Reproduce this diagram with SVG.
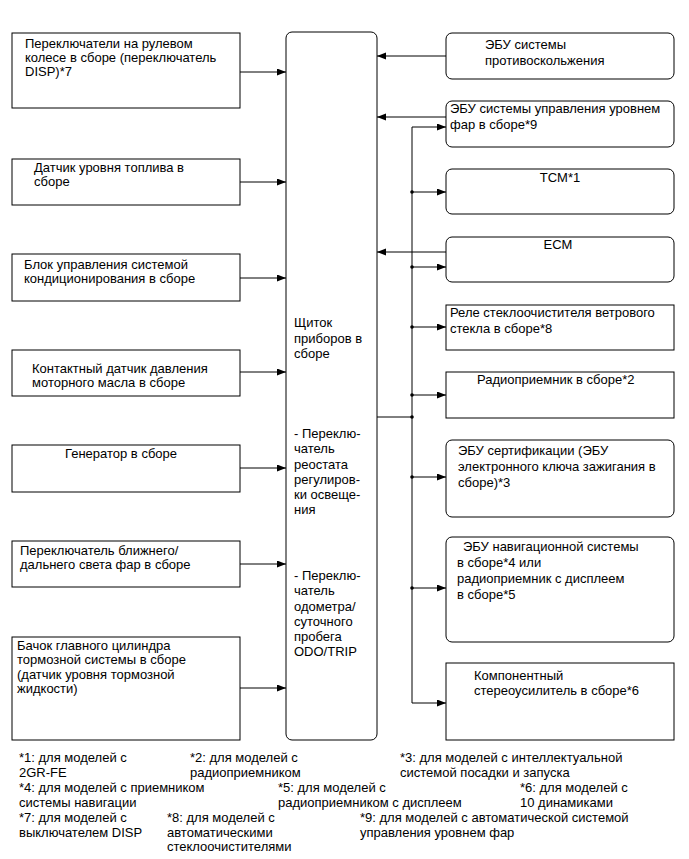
<svg xmlns="http://www.w3.org/2000/svg" width="689" height="859" viewBox="0 0 689 859">
<defs>
<marker id="ah" markerUnits="userSpaceOnUse" markerWidth="10" markerHeight="8" refX="9" refY="3.5" orient="auto">
<path d="M0,0 L9,3.5 L0,7 z" fill="#000"/>
</marker>
<style>
.b{fill:#fff;stroke:#000;stroke-width:1}
.t{font-family:"Liberation Sans",Arial,sans-serif;font-size:13px;fill:#000}
.c{stroke:#000;stroke-width:1;fill:none}
.a{marker-end:url(#ah)}
</style>
</defs>
<rect width="689" height="859" fill="#fff"/>
<g id="connectors">
<line class="c a" x1="240" y1="72" x2="286" y2="72"/>
<line class="c a" x1="240" y1="182" x2="286" y2="182"/>
<line class="c a" x1="240" y1="278" x2="286" y2="278"/>
<line class="c a" x1="240" y1="372" x2="286" y2="372"/>
<line class="c a" x1="240" y1="468" x2="286" y2="468"/>
<line class="c a" x1="240" y1="564" x2="286" y2="564"/>
<line class="c a" x1="240" y1="688" x2="286" y2="688"/>
<line class="c a" x1="446" y1="56" x2="377" y2="56"/>
<line class="c a" x1="446" y1="117" x2="377" y2="117"/>
<line class="c a" x1="446" y1="252" x2="377" y2="252"/>
<line class="c" x1="377" y1="417" x2="412" y2="417"/>
<path class="c a" d="M412,703 L412,127 L446,127"/>
<line class="c a" x1="412" y1="192" x2="446" y2="192"/>
<line class="c a" x1="412" y1="267" x2="446" y2="267"/>
<line class="c a" x1="412" y1="327" x2="446" y2="327"/>
<line class="c a" x1="412" y1="395" x2="446" y2="395"/>
<line class="c a" x1="412" y1="477" x2="446" y2="477"/>
<line class="c a" x1="412" y1="588" x2="446" y2="588"/>
<line class="c a" x1="412" y1="703" x2="446" y2="703"/>
<g fill="#000">
<circle cx="412" cy="192" r="1.8"/>
<circle cx="412" cy="267" r="1.8"/>
<circle cx="412" cy="327" r="1.8"/>
<circle cx="412" cy="395" r="1.8"/>
<circle cx="412" cy="417" r="1.8"/>
<circle cx="412" cy="477" r="1.8"/>
<circle cx="412" cy="588" r="1.8"/>
</g>
</g>
<g id="center">
<rect class="b" x="286" y="32" width="91" height="708" rx="6"/>
<text class="t"><tspan x="294" y="327">Щиток</tspan><tspan x="294" y="342.5">приборов в</tspan><tspan x="294" y="358">сборе</tspan>
<tspan x="294" y="438">- Переклю-</tspan><tspan x="294" y="453">чатель</tspan><tspan x="294" y="468.5">реостата</tspan><tspan x="294" y="484">регулиров-</tspan><tspan x="294" y="499">ки освеще-</tspan><tspan x="294" y="514">ния</tspan>
<tspan x="294" y="580">- Переклю-</tspan><tspan x="294" y="595">чатель</tspan><tspan x="294" y="610.5">одометра/</tspan><tspan x="294" y="626">суточного</tspan><tspan x="294" y="641">пробега</tspan><tspan x="294" y="656">ODO/TRIP</tspan></text>
</g>
<g id="l1"><rect class="b" x="12" y="33" width="228" height="75"/>
<text class="t"><tspan x="25" y="48">Переключатели на рулевом</tspan><tspan x="25" y="62">колесе в сборе (переключатель</tspan><tspan x="25" y="76">DISP)*7</tspan></text></g>
<g id="l2"><rect class="b" x="12" y="159" width="228" height="46"/>
<text class="t"><tspan x="34" y="172">Датчик уровня топлива в</tspan><tspan x="34" y="186">сборе</tspan></text></g>
<g id="l3"><rect class="b" x="12" y="254" width="228" height="47"/>
<text class="t"><tspan x="24" y="269">Блок управления системой</tspan><tspan x="24" y="283">кондиционирования в сборе</tspan></text></g>
<g id="l4"><rect class="b" x="12" y="350" width="228" height="46"/>
<text class="t"><tspan x="32" y="373">Контактный датчик давления</tspan><tspan x="32" y="387">моторного масла в сборе</tspan></text></g>
<g id="l5"><rect class="b" x="12" y="445" width="228" height="47"/>
<text class="t"><tspan x="65" y="458">Генератор в сборе</tspan></text></g>
<g id="l6"><rect class="b" x="12" y="541" width="228" height="46"/>
<text class="t"><tspan x="20" y="555">Переключатель ближнего/</tspan><tspan x="20" y="569">дальнего света фар в сборе</tspan></text></g>
<g id="l7"><rect class="b" x="12" y="637" width="228" height="103"/>
<text class="t"><tspan x="17" y="650">Бачок главного цилиндра</tspan><tspan x="17" y="664">тормозной системы в сборе</tspan><tspan x="17" y="679">(датчик уровня тормозной</tspan><tspan x="17" y="693">жидкости)</tspan></text></g>
<g id="r1"><rect class="b" x="446" y="33" width="228" height="46" rx="6"/>
<text class="t"><tspan x="485" y="49">ЭБУ системы</tspan><tspan x="485" y="65">противоскольжения</tspan></text></g>
<g id="r2"><rect class="b" x="446" y="101" width="228" height="46" rx="6"/>
<text class="t"><tspan x="450" y="113">ЭБУ системы управления уровнем</tspan><tspan x="450" y="129">фар в сборе*9</tspan></text></g>
<g id="r3"><rect class="b" x="446" y="169" width="228" height="45" rx="6"/>
<text class="t" text-anchor="middle" x="560" y="182">TCM*1</text></g>
<g id="r4"><rect class="b" x="446" y="237" width="228" height="45" rx="6"/>
<text class="t" text-anchor="middle" x="558" y="249">ECM</text></g>
<g id="r5"><rect class="b" x="446" y="305" width="228" height="45"/>
<text class="t"><tspan x="450" y="317">Реле стеклоочистителя ветрового</tspan><tspan x="450" y="333">стекла в сборе*8</tspan></text></g>
<g id="r6"><rect class="b" x="446" y="372" width="228" height="46"/>
<text class="t"><tspan x="477" y="384">Радиоприемник в сборе*2</tspan></text></g>
<g id="r7"><rect class="b" x="446" y="440" width="228" height="77" rx="6"/>
<text class="t"><tspan x="458" y="455">ЭБУ сертификации (ЭБУ</tspan><tspan x="458" y="471">электронного ключа зажигания в</tspan><tspan x="458" y="487">сборе)*3</tspan></text></g>
<g id="r8"><rect class="b" x="446" y="537" width="228" height="105" rx="6"/>
<text class="t"><tspan x="463" y="551">ЭБУ навигационной системы</tspan><tspan x="457" y="567">в сборе*4 или</tspan><tspan x="457" y="583">радиоприемник с дисплеем</tspan><tspan x="457" y="599">в сборе*5</tspan></text></g>
<g id="r9"><rect class="b" x="446" y="663" width="228" height="77"/>
<text class="t"><tspan x="474" y="680">Компонентный</tspan><tspan x="474" y="695">стереоусилитель в сборе*6</tspan></text></g>
<g id="notes">
<text class="t"><tspan x="19" y="762">*1: для моделей с</tspan><tspan x="19" y="777">2GR-FE</tspan></text>
<text class="t"><tspan x="190" y="762">*2: для моделей с</tspan><tspan x="190" y="777">радиоприемником</tspan></text>
<text class="t"><tspan x="400" y="762">*3: для моделей с интеллектуальной</tspan><tspan x="400" y="777">системой посадки и запуска</tspan></text>
<text class="t"><tspan x="19" y="792">*4: для моделей с приемником</tspan><tspan x="19" y="807">системы навигации</tspan></text>
<text class="t"><tspan x="278" y="792">*5: для моделей с</tspan><tspan x="278" y="807">радиоприемником с дисплеем</tspan></text>
<text class="t"><tspan x="520" y="792">*6: для моделей с</tspan><tspan x="520" y="807">10 динамиками</tspan></text>
<text class="t"><tspan x="19" y="822">*7: для моделей с</tspan><tspan x="19" y="837">выключателем DISP</tspan></text>
<text class="t"><tspan x="167" y="822">*8: для моделей с</tspan><tspan x="167" y="837">автоматическими</tspan><tspan x="167" y="851">стеклоочистителями</tspan></text>
<text class="t"><tspan x="360" y="822">*9: для моделей с автоматической системой</tspan><tspan x="360" y="837">управления уровнем фар</tspan></text>
</g>
</svg>
